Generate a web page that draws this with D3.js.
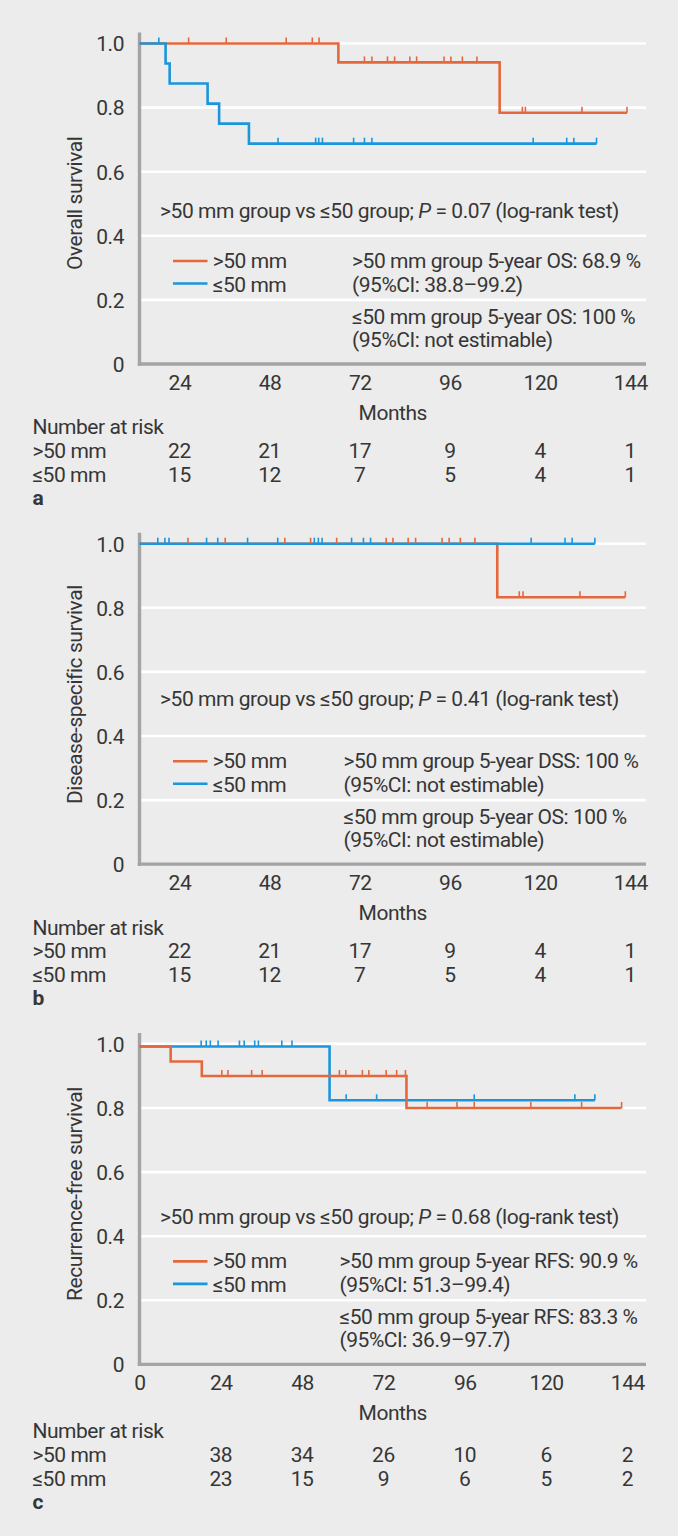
<!DOCTYPE html>
<meta charset="utf-8">
<style>
body { margin: 0; background: #ececec; }
svg { display: block; font-family: Roboto, "Open Sans", sans-serif; }
.lbl { fill: #363636; font-size: 21px; letter-spacing: -0.45px; }
.tick text { fill: #363636; font-size: 21px; letter-spacing: -0.45px; font-family: Roboto, sans-serif; }
</style>
<svg width="678" height="1536"></svg>
<script src="https://d3js.org/d3.v7.min.js"></script>
<script>

/** shared tick values / labels **/
var monthTicks = [0, 24, 48, 72, 96, 120, 144];
var survTicks = [0, 0.2, 0.4, 0.6, 0.8, 1.0];
var groups = [">50 mm", "≤50 mm"];

/** a: overall survival (step times in months, survival after each step) **/
var osBigTimes = [0, 58.7, 106.3, 143.9];
var osBigSurv = [1, 0.941, 0.784, 0.784];
var osSmallTimes = [0, 7.7, 8.9, 20.1, 23.5, 32.3, 134.9];
var osSmallSurv = [1, 0.9375, 0.875, 0.8125, 0.75, 0.6875, 0.6875];
var osBigCens = [14.5, 25.6, 43.3, 51.0, 53.0, 66.4, 68.6, 73.2, 75.3, 79.8, 81.8, 89.9, 91.9, 95.3, 99.6, 113.0, 113.9, 130.6, 143.9];
var osSmallCens = [5.7, 40.9, 52.0, 52.9, 54.0, 63.2, 66.4, 68.6, 116.2, 126.1, 128.2, 134.9];
var osRiskBig = [22, 21, 17, 9, 4, 1];
var osRiskSmall = [15, 12, 7, 5, 4, 1];

/** b: disease-specific survival **/
var dssBigTimes = [0, 105.6, 143.4];
var dssBigSurv = [1, 0.833, 0.833];
var dssSmallTimes = [0, 134.4];
var dssSmallSurv = [1, 1];
var dssBigCens = [14.3, 25.3, 42.9, 50.5, 58.2, 72.8, 74.8, 79.3, 81.5, 89.3, 91.4, 94.7, 99.0, 112.1, 113.2, 130.0, 143.4];
var dssSmallCens = [5.4, 7.5, 8.7, 19.8, 23.1, 31.9, 40.8, 51.6, 52.8, 53.9, 62.6, 66.1, 68.2, 115.6, 125.6, 127.7, 134.4];
var dssRiskBig = [22, 21, 17, 9, 4, 1];
var dssRiskSmall = [15, 12, 7, 5, 4, 1];

/** c: recurrence-free survival **/
var rfsBigTimes = [0, 9.2, 18.4, 78.8, 142.3];
var rfsBigSurv = [0.992, 0.945, 0.9, 0.8, 0.8];
var rfsSmallTimes = [0, 56.1, 134.4];
var rfsSmallSurv = [0.992, 0.824, 0.824];
var rfsBigCens = [24.3, 26.1, 33.1, 36.2, 59.0, 60.9, 65.8, 67.7, 72.8, 75.9, 78.5, 84.9, 93.7, 98.8, 115.5, 130.5, 142.3];
var rfsSmallCens = [18.2, 19.7, 20.9, 23.2, 29.5, 30.9, 34.0, 35.1, 42.0, 45.0, 61.0, 70.0, 98.8, 128.5, 134.4];
var rfsRiskBig = [38, 34, 26, 10, 6, 2];
var rfsRiskSmall = [23, 15, 9, 6, 5, 2];

var orange = "#e5683c", blue = "#1b96db";

var panels = [
  { letter: "a", ylab: "Overall survival", ylabOff: 160.7, p: "0.07", pOff: 146, statX: 352,
    stats: [">50 mm group 5-year OS: 68.9 %", "(95%CI: 38.8–99.2)", "≤50 mm group 5-year OS: 100 %", "(95%CI: not estimable)"],
    big: [osBigTimes, osBigSurv, osBigCens], small: [osSmallTimes, osSmallSurv, osSmallCens],
    risk: [osRiskBig, osRiskSmall], zeroTick: false, bigOnTop: false, narOff: 0 },
  { letter: "b", ylab: "Disease-specific survival", ylabOff: 169.6, p: "0.41", pOff: 158, statX: 343.5,
    stats: [">50 mm group 5-year DSS: 100 %", "(95%CI: not estimable)", "≤50 mm group 5-year OS: 100 %", "(95%CI: not estimable)"],
    big: [dssBigTimes, dssBigSurv, dssBigCens], small: [dssSmallTimes, dssSmallSurv, dssSmallCens],
    risk: [dssRiskBig, dssRiskSmall], zeroTick: false, bigOnTop: false, narOff: 0 },
  { letter: "c", ylab: "Recurrence-free survival", ylabOff: 170.4, p: "0.68", pOff: 140.5, statX: 339.5,
    stats: [">50 mm group 5-year RFS: 90.9 %", "(95%CI: 51.3–99.4)", "≤50 mm group 5-year RFS: 83.3 %", "(95%CI: 36.9–97.7)"],
    big: [rfsBigTimes, rfsBigSurv, rfsBigCens], small: [rfsSmallTimes, rfsSmallSurv, rfsSmallCens],
    risk: [rfsRiskBig, rfsRiskSmall], zeroTick: true, bigOnTop: true, narOff: 3.3 }
];

var svg = d3.select("svg");

// curves share one month scale; a & b print their labels spread out without the 0
var x = d3.scaleLinear().domain([0, 149.5]).range([139.5, 646]);
var xSpread = d3.scaleLinear().domain([24, 144]).range([179.4, 630.3]);

function survAt(times, surv, t) {
  var i = d3.bisectRight(times, t) - 1;
  return surv[Math.max(0, i)];
}

panels.forEach(function(p, i) {
  var bottom = 364 + 500.2 * i;
  var y = d3.scaleLinear().domain([0, 1]).range([bottom, bottom - 320.5]);
  var xl = p.zeroTick ? x : xSpread;
  var g = svg.append("g");

  // white gridlines
  g.selectAll("line.grid")
    .data(survTicks.filter(function(d) { return d > 0; }))
    .enter().append("line")
      .attr("class", "grid")
      .attr("x1", x(0)).attr("x2", 646)
      .attr("y1", function(d) { return y(d); })
      .attr("y2", function(d) { return y(d); })
      .attr("stroke", "#fff")
      .attr("stroke-width", 2.6);

  // grey axis lines
  g.append("line")
    .attr("x1", x(0)).attr("x2", x(0))
    .attr("y1", y(1) - 11).attr("y2", bottom + 1.7)
    .attr("stroke", "#a4a4a4").attr("stroke-width", 3.4);
  g.append("line")
    .attr("x1", x(0) - 1.7).attr("x2", 646)
    .attr("y1", bottom).attr("y2", bottom)
    .attr("stroke", "#a4a4a4").attr("stroke-width", 3.3);

  // y axis labels
  var ya = g.append("g")
    .attr("transform", "translate(" + x(0) + ",0)")
    .call(d3.axisLeft(y).tickValues(survTicks).tickSize(0).tickPadding(15.5)
      .tickFormat(function(d) { return d === 0 ? "0" : d3.format(".1f")(d); }));
  ya.select(".domain").remove();
  ya.selectAll("text").attr("dy", "0.35em");

  // x axis labels
  var xa = g.append("g")
    .attr("transform", "translate(0," + bottom + ")")
    .call(d3.axisBottom(xl).tickValues(p.zeroTick ? monthTicks : monthTicks.slice(1)).tickSize(0));
  xa.select(".domain").remove();
  xa.selectAll("text").attr("y", 26).attr("dy", 0);

  g.append("text").attr("class", "lbl")
    .attr("x", (x(0) + 646) / 2).attr("y", bottom + 56)
    .attr("text-anchor", "middle").text("Months");

  g.append("text").attr("class", "lbl")
    .attr("transform", "translate(81.5," + (bottom - p.ylabOff) + ") rotate(-90)")
    .attr("text-anchor", "middle").text(p.ylab);

  /** KM step curves **/
  var line = d3.line()
    .x(function(d) { return x(d[0]); })
    .y(function(d) { return y(d[1]); })
    .curve(d3.curveStepAfter);

  var series = [
    { col: orange, s: p.big },
    { col: blue, s: p.small }
  ];
  if (p.bigOnTop) series.reverse();

  series.forEach(function(sr) {
    g.append("path")
      .datum(d3.zip(sr.s[0], sr.s[1]))
      .attr("d", line)
      .attr("fill", "none")
      .attr("stroke", sr.col)
      .attr("stroke-width", 2.6);
  });

  // censor marks
  series.forEach(function(sr) {
    g.selectAll(null)
      .data(sr.s[2])
      .enter().append("line")
        .attr("x1", function(d) { return x(d); })
        .attr("x2", function(d) { return x(d); })
        .attr("y1", function(d) { return y(survAt(sr.s[0], sr.s[1], d)); })
        .attr("y2", function(d) { return y(survAt(sr.s[0], sr.s[1], d)) - 6; })
        .attr("stroke", sr.col)
        .attr("stroke-width", 1.6);
  });

  /** annotation text **/
  var pt = g.append("text").attr("class", "lbl")
    .attr("x", 160).attr("y", bottom - p.pOff);
  pt.append("tspan").text(">50 mm group vs ≤50 group; ");
  pt.append("tspan").attr("font-style", "italic").text("P");
  pt.append("tspan").text(" = " + p.p + " (log-rank test)");

  [orange, blue].forEach(function(c, k) {
    g.append("line")
      .attr("x1", 173).attr("x2", 207.5)
      .attr("y1", bottom - 103 + 22.5 * k).attr("y2", bottom - 103 + 22.5 * k)
      .attr("stroke", c).attr("stroke-width", 2.6);
    g.append("text").attr("class", "lbl")
      .attr("x", 212.7).attr("y", bottom - 96 + 23.8 * k)
      .text(groups[k]);
  });

  var statY = [96, 72.4, 40, 17];
  p.stats.forEach(function(t, k) {
    g.append("text").attr("class", "lbl")
      .attr("x", p.statX).attr("y", bottom - statY[k])
      .text(t);
  });

  /** number at risk **/
  var nb = bottom + p.narOff;
  g.append("text").attr("class", "lbl").attr("x", 32.4).attr("y", nb + 70.3).text("Number at risk");
  p.risk.forEach(function(row, k) {
    var ry = nb + 93.8 + 24.2 * k;
    g.append("text").attr("class", "lbl").attr("x", 32.4).attr("y", ry).text(groups[k]);
    g.selectAll(null)
      .data(row)
      .enter().append("text")
        .attr("class", "lbl")
        .attr("x", function(d, j) { return xl(monthTicks[j + 1]); })
        .attr("y", ry)
        .attr("text-anchor", "middle")
        .text(function(d) { return d; });
  });
  g.append("text").attr("class", "lbl")
    .attr("x", 32.4).attr("y", nb + 141)
    .attr("font-weight", "bold")
    .text(p.letter);
});

</script>
